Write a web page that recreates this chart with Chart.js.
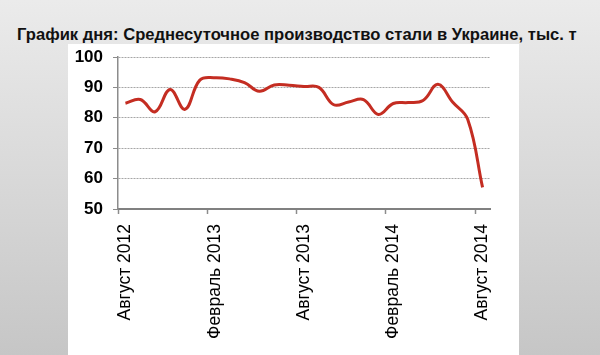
<!DOCTYPE html>
<html lang="ru">
<head>
<meta charset="UTF-8">
<title>Среднесуточное производство стали в Украине</title>
<script src="https://cdn.jsdelivr.net/npm/chart.js"></script>
<style>
    html, body {
        margin: 0;
        padding: 0;
        width: 600px;
        height: 355px;
        overflow: hidden;
    }
    body {
        background: linear-gradient(to bottom, #ebebeb 0%, #c6c6c6 100%);
        font-family: "Liberation Sans", Arial, sans-serif;
        position: relative;
    }
    #title {
        position: absolute;
        left: 17px;
        top: 25px;
        font-size: 16.6px;
        font-weight: bold;
        color: #111;
        white-space: nowrap;
    }
    #panel {
        position: absolute;
        left: 68px;
        top: 44px;
        width: 451px;
        height: 311px;
        background: #fff;
    }
    #steel {
        position: absolute;
        left: 0;
        top: 0;
    }
</style>
</head>
<body>
<div id="title">График дня: Среднесуточное производство стали в Украине, тыс. т</div>
<div id="panel"></div>
<canvas id="steel" width="600" height="355"></canvas>

<script>
// monthly data, Aug 2012 .. Aug 2014
const months = [
    'Август 2012', 'Сентябрь 2012', 'Октябрь 2012', 'Ноябрь 2012', 'Декабрь 2012',
    'Январь 2013', 'Февраль 2013', 'Март 2013', 'Апрель 2013', 'Май 2013',
    'Июнь 2013', 'Июль 2013', 'Август 2013', 'Сентябрь 2013', 'Октябрь 2013',
    'Ноябрь 2013', 'Декабрь 2013', 'Январь 2014', 'Февраль 2014', 'Март 2014',
    'Апрель 2014', 'Май 2014', 'Июнь 2014', 'Июль 2014', 'Август 2014'
];
const output = [
    84.8, 86.0, 82.0, 89.3, 82.8,
    92.4, 93.2, 92.8, 91.6, 88.7,
    90.8, 90.7, 90.3, 90.0, 84.3,
    85.2, 86.0, 81.1, 84.7, 85.0,
    85.7, 91.0, 85.1, 79.5, 57.1
];
const yTicks = [50, 60, 70, 80, 90, 100];
const labelEvery = 6;

const ctx = document.getElementById('steel').getContext('2d');
new Chart(ctx, {
    type: 'line',
    data: {
        labels: months,
        datasets: [{
            data: output,
            borderColor: '#c42d22',
            borderWidth: 3,
            tension: 0.4,
            pointRadius: 0,
            fill: false
        }]
    },
    options: {
        responsive: false,
        animation: false,
        devicePixelRatio: 1,
        layout: { padding: { left: 60, top: 57, right: 110, bottom: 0 } },
        plugins: {
            legend: { display: false },
            tooltip: { enabled: false }
        },
        scales: {
            x: {
                offset: true,
                afterFit: s => { s.height = 146; },
                grid: {
                    offset: true,
                    drawOnChartArea: false,
                    tickLength: 5,
                    tickWidth: 1.5,
                    tickColor: c => (c.index % labelEvery === 0 ? '#8c8c8c' : 'rgba(0,0,0,0)')
                },
                border: { color: '#808080', width: 2 },
                ticks: {
                    autoSkip: false,
                    minRotation: 90,
                    maxRotation: 90,
                    padding: 10,
                    color: '#000',
                    font: { family: '"Liberation Sans", Arial, sans-serif', size: 17.5 },
                    callback: (v, i) => (i % labelEvery === 0 ? months[i] : '')
                }
            },
            y: {
                min: yTicks[0],
                max: yTicks[yTicks.length - 1],
                afterFit: s => { s.width = 58; },
                afterBuildTicks: s => { s.ticks = yTicks.map(v => ({ value: v })); },
                grid: {
                    color: c => (c.tick && c.tick.value === yTicks[0] ? 'rgba(0,0,0,0)' : '#a6a6a6'),
                    lineWidth: 1,
                    tickLength: 5,
                    tickColor: '#8c8c8c'
                },
                border: { color: '#8c8c8c', width: 1.5, dash: [2, 1] },
                ticks: {
                    padding: 10,
                    color: '#000',
                    font: { family: '"Liberation Sans", Arial, sans-serif', size: 17, weight: 'bold' }
                }
            }
        }
    }
});
</script>
</body>
</html>
